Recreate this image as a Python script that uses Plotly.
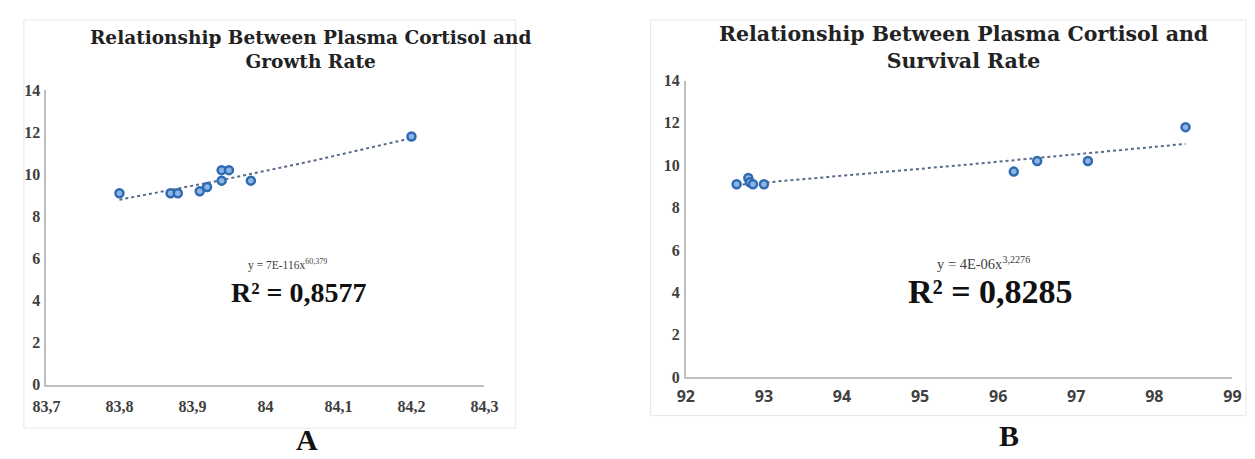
import numpy as np
import plotly.graph_objects as go

# ---------------- data ----------------
cortisol_a = [83.80, 83.87, 83.88, 83.91, 83.92, 83.94, 83.94, 83.95, 83.98, 84.20]
growth_a   = [9.1, 9.1, 9.1, 9.2, 9.4, 9.7, 10.2, 10.2, 9.7, 11.8]

cortisol_b = [92.65, 92.80, 92.82, 92.86, 93.00, 96.20, 96.50, 97.15, 98.40]
survival_b = [9.1, 9.4, 9.2, 9.1, 9.1, 9.7, 10.2, 10.2, 11.8]

xticks_a = [83.7, 83.8, 83.9, 84.0, 84.1, 84.2, 84.3]
xtext_a  = ["83,7", "83,8", "83,9", "84", "84,1", "84,2", "84,3"]
xticks_b = [92, 93, 94, 95, 96, 97, 98, 99]
xtext_b  = ["92", "93", "94", "95", "96", "97", "98", "99"]
yticks   = [0, 2, 4, 6, 8, 10, 12, 14]

title_a = "Relationship Between Plasma Cortisol and<br>Growth Rate"
title_b = "Relationship Between Plasma Cortisol and<br>Survival Rate"
eq_a = "y = 7E-116x<sup>60,379</sup>"
eq_b = "y = 4E-06x<sup>3,2276</sup>"
r2_a = "R² = 0,8577"
r2_b = "R² = 0,8285"

W, H = 1255, 459


def power_fit(x, y):
    x = np.asarray(x, float)
    y = np.asarray(y, float)
    b, lna = np.polyfit(np.log(x), np.log(y), 1)
    xs = np.linspace(x.min(), x.max(), 60)
    return xs, np.exp(lna) * xs ** b


SERIF = "Liberation Serif"
WIDE_SERIF = "DejaVu Serif"
AXIS_COL = "#bfbfbf"
TICK_COL = "#404040"
MARK_FILL = "#8db4e2"
MARK_LINE = "#2e6bb3"
TREND_COL = "#5b6a8a"

fig = go.Figure()

for i, (xs, ys) in enumerate([(cortisol_a, growth_a), (cortisol_b, survival_b)]):
    xa = "x" if i == 0 else "x2"
    ya = "y" if i == 0 else "y2"
    tx, ty = power_fit(xs, ys)
    fig.add_trace(go.Scatter(x=tx, y=ty, mode="lines", xaxis=xa, yaxis=ya,
                             line=dict(color=TREND_COL, width=2, dash="dot"),
                             showlegend=False, hoverinfo="skip"))
    fig.add_trace(go.Scatter(x=xs, y=ys, mode="markers", xaxis=xa, yaxis=ya,
                             marker=dict(symbol="circle", size=8, color=MARK_FILL,
                                         line=dict(color=MARK_LINE, width=2.5)),
                             showlegend=False))


def px_x(p):
    return p / W


def px_y(p):
    return 1 - p / H


common_y = dict(range=[0, 14], tickvals=yticks, showgrid=False, zeroline=False,
                showline=True, linecolor=AXIS_COL, linewidth=2, ticks="",
                ticklabelstandoff=1,
                tickfont=dict(family=SERIF, size=16, color=TICK_COL, weight="bold"),
                fixedrange=True)

fig.update_layout(
    width=W, height=H, autosize=False,
    margin=dict(l=0, r=0, t=0, b=0),
    paper_bgcolor="white", plot_bgcolor="white",
    xaxis=dict(domain=[px_x(25), px_x(473)], range=[83.7, 84.3],
               tickvals=xticks_a, ticktext=xtext_a, anchor="y",
               showgrid=False, zeroline=False, showline=True, linecolor=AXIS_COL,
               linewidth=2, ticks="", ticklabelstandoff=6,
               tickfont=dict(family=SERIF, size=16, color=TICK_COL, weight="bold")),
    yaxis=dict(domain=[px_y(383), px_y(77)], anchor="x", **common_y),
    xaxis2=dict(domain=[px_x(679), px_x(1238)], range=[92, 99],
                tickvals=xticks_b, ticktext=xtext_b, anchor="y2",
                showgrid=False, zeroline=False, showline=True, linecolor=AXIS_COL,
                linewidth=2, ticks="", ticklabelstandoff=4,
                tickfont=dict(family="Open Sans", size=16, color=TICK_COL, weight="bold")),
    yaxis2=dict(domain=[px_y(375), px_y(67)], anchor="x2", **common_y),
)

shapes = [
    dict(type="rect", xref="paper", yref="paper",
         x0=px_x(2), x1=px_x(505), y0=px_y(428), y1=px_y(4),
         line=dict(color="#e6e6e6", width=1)),
    dict(type="rect", xref="paper", yref="paper",
         x0=px_x(643), x1=px_x(1252), y0=px_y(415), y1=px_y(4),
         line=dict(color="#e6e6e6", width=1)),
]
fig.update_layout(shapes=shapes)

ann = []
ann.append(dict(text="<b>" + title_a + "</b>", x=px_x(295), y=px_y(35), xref="paper", yref="paper",
                showarrow=False, font=dict(family=WIDE_SERIF, size=18.5, color="#222222"),
                xanchor="center", yanchor="middle"))
ann.append(dict(text="<b>" + title_b + "</b>", x=px_x(963), y=px_y(33), xref="paper", yref="paper",
                showarrow=False, font=dict(family=WIDE_SERIF, size=20.5, color="#222222"),
                xanchor="center", yanchor="middle"))
ann.append(dict(text=eq_a, x=px_x(272), y=px_y(258), xref="paper", yref="paper",
                showarrow=False, font=dict(family=SERIF, size=11.5, color="#404040"),
                xanchor="center", yanchor="middle"))
ann.append(dict(text="<b>" + r2_a + "</b>", x=px_x(283), y=px_y(287), xref="paper", yref="paper",
                showarrow=False, font=dict(family=SERIF, size=28, color="#111111"),
                xanchor="center", yanchor="middle"))
ann.append(dict(text=eq_b, x=px_x(983), y=px_y(256), xref="paper", yref="paper",
                showarrow=False, font=dict(family=SERIF, size=14.5, color="#404040"),
                xanchor="center", yanchor="middle"))
ann.append(dict(text="<b>" + r2_b + "</b>", x=px_x(991), y=px_y(286), xref="paper", yref="paper",
                showarrow=False, font=dict(family=SERIF, size=34, color="#111111"),
                xanchor="center", yanchor="middle"))
ann.append(dict(text="<b>A</b>", x=px_x(291), y=px_y(440), xref="paper", yref="paper",
                showarrow=False, font=dict(family=SERIF, size=30, color="#111111"),
                xanchor="center", yanchor="middle"))
ann.append(dict(text="<b>B</b>", x=px_x(1010), y=px_y(436), xref="paper", yref="paper",
                showarrow=False, font=dict(family=SERIF, size=30, color="#111111"),
                xanchor="center", yanchor="middle"))
fig.update_layout(annotations=ann)

fig.write_html("out.html")
